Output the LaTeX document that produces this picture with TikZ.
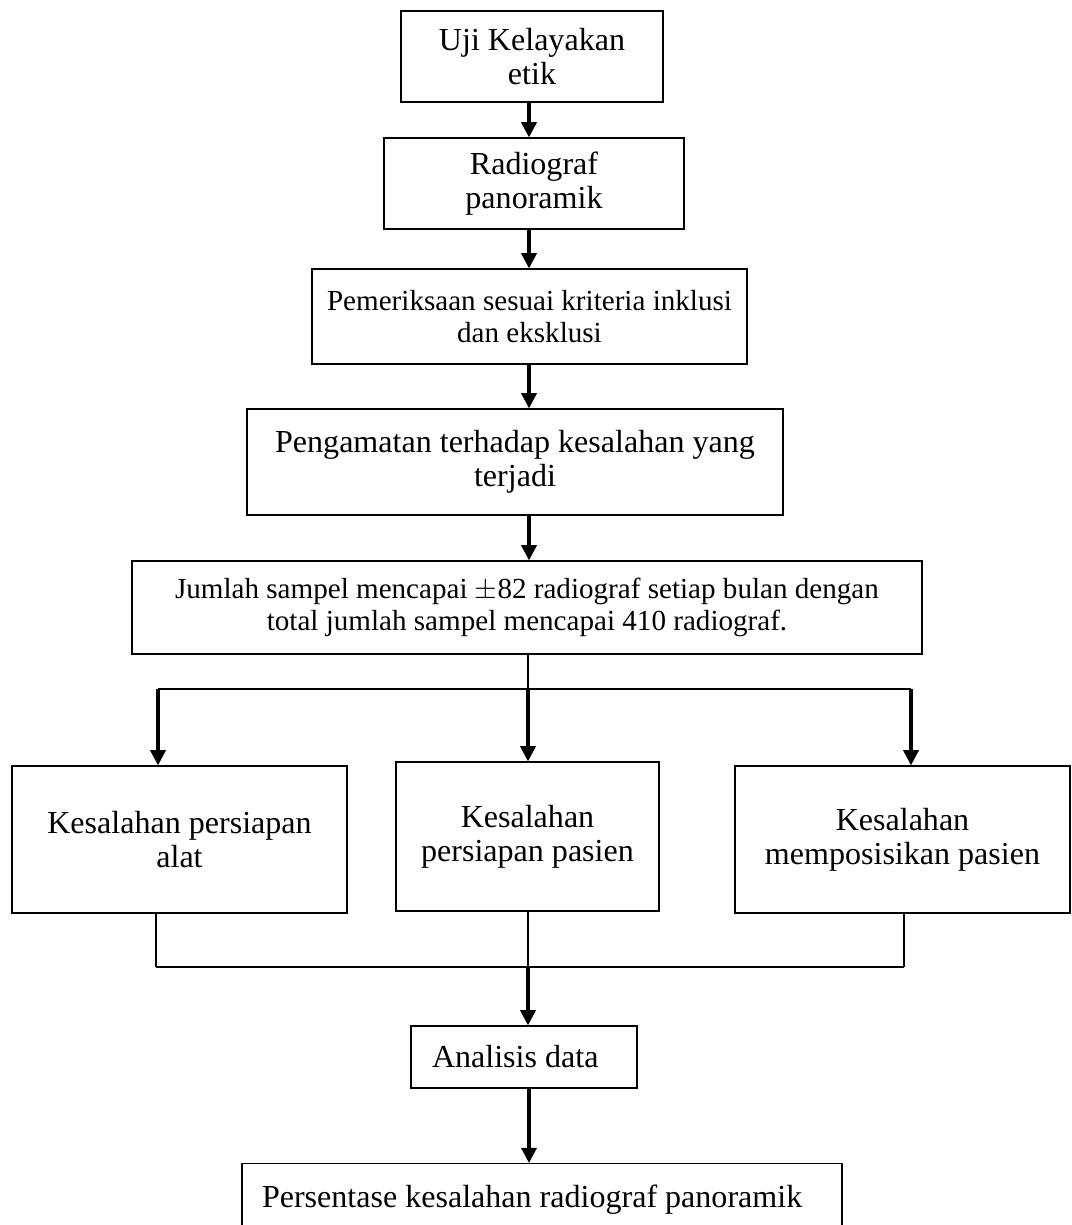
\documentclass[tikz,border=0pt]{standalone}
\usepackage{fontspec}
\setmainfont{Liberation Serif}
\usepackage{tikz}
\usetikzlibrary{arrows.meta, positioning, calc}

\begin{document}
\begin{tikzpicture}[
    every node/.style={font=\fontsize{22.8}{24.4}\selectfont},
    box/.style={draw=black, line width=0.9pt, align=center, inner sep=0pt},
    smallbox/.style={box, font=\fontsize{20.7}{22.8}\selectfont},
    leftbox/.style={draw=black, line width=0.9pt, align=flush left, inner xsep=0.5cm},
    arr/.style={-{Triangle[length=0.38cm, width=0.38cm]}, line width=2.2pt},
    link/.style={line width=0.9pt},
]
\useasboundingbox (0,0) rectangle (26.8,30.625);

% main spine
\coordinate (axis) at (13.225, 0);

% =============================================
% TOP CHAIN
% =============================================
\node[box, minimum width=6.55cm, minimum height=2.275cm] (etik) at (13.3, 29.2125)
    {Uji Kelayakan\\etik};
\node[box, minimum width=7.5cm, minimum height=2.275cm] (pano) at (13.35, 26.0375)
    {Radiograf\\panoramik};
\node[smallbox, minimum width=10.875cm, minimum height=2.375cm] (krit) at (13.2375, 22.7125)
    {Pemeriksaan sesuai kriteria inklusi\\dan eksklusi};
\node[box, minimum width=13.4cm, minimum height=2.65cm] (amat) at (12.875, 19.075)
    {Pengamatan terhadap kesalahan yang\\terjadi};
\node[smallbox, minimum width=19.75cm, minimum height=2.325cm] (sampel) at (13.175, 15.4375)
    {Jumlah sampel mencapai $\pm$82 radiograf setiap bulan dengan\\
    total jumlah sampel mencapai 410 radiograf.};

\draw[arr] (etik.south -| axis) -- (pano.north -| axis);
\draw[arr] (pano.south -| axis) -- (krit.north -| axis);
\draw[arr] (krit.south -| axis) -- (amat.north -| axis);
\draw[arr] (amat.south -| axis) -- (sampel.north -| axis);

% =============================================
% THREE KINDS OF ERROR
% =============================================
\node[box, minimum width=8.375cm, minimum height=3.675cm] (alat) at (4.4875, 9.6375)
    {Kesalahan persiapan\\alat};
\node[box, minimum width=6.575cm, minimum height=3.725cm] (siap) at (13.1875, 9.7125)
    {Kesalahan\\persiapan pasien};
\node[box, minimum width=8.375cm, minimum height=3.675cm] (posisi) at (22.5625, 9.6375)
    {Kesalahan\\memposisikan pasien};

% fork
\coordinate (forkL) at (3.95, 13.4);
\coordinate (forkM) at (13.2, 13.4);
\coordinate (forkR) at (22.775, 13.4);

\draw[link] (sampel.south -| forkM) -- (forkM);
\draw[link] (forkL) -- (forkR);
\draw[arr] (forkL) -- (alat.north -| forkL);
\draw[arr] (forkM) -- (siap.north -| forkM);
\draw[arr] (forkR) -- (posisi.north -| forkR);

% join
\coordinate (joinL) at (3.9, 6.45);
\coordinate (joinM) at (13.2, 6.45);
\coordinate (joinR) at (22.6, 6.45);

\draw[link] (alat.south -| joinL) -- (joinL);
\draw[link] (siap.south -| joinM) -- (joinM);
\draw[link] (posisi.south -| joinR) -- (joinR);
\draw[link] (joinL) -- (joinR);

% =============================================
% ANALYSIS
% =============================================
\node[leftbox, text width=4.6cm, inner xsep=0.525cm, minimum height=1.55cm] (data) at (13.1, 4.2)
    {Analisis data};
\node[leftbox, text width=14cm, minimum height=1.825cm, anchor=north] (hasil) at (13.55, 1.55)
    {Persentase kesalahan radiograf panoramik};

\draw[arr] (joinM) -- (data.north -| joinM);
\draw[arr] (data.south -| axis) -- (hasil.north -| axis);

\end{tikzpicture}
\end{document}
